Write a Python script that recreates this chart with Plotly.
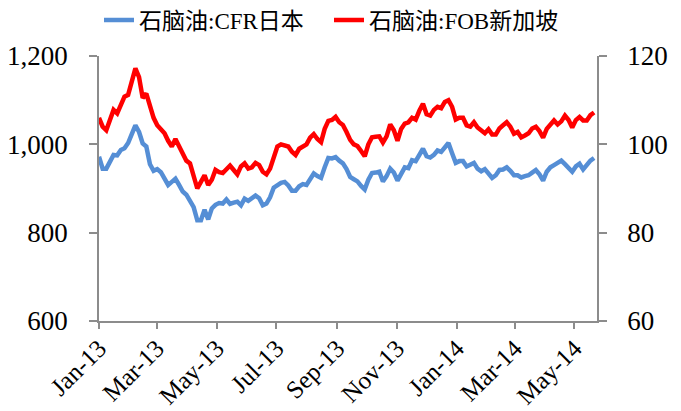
import pandas as pd
import plotly.graph_objects as go

# Observation window (evenly spaced observations)
start_date = "2013-01-01"
end_date = "2014-05-21"

cfr_japan = [
    972, 945, 945, 962, 976, 975, 987, 991, 1003, 1023,
    1043, 1028, 1002, 995, 955, 940, 944, 937, 922, 908,
    915, 922, 908, 893, 886, 874, 858, 828, 828, 852,
    830, 855, 863, 867, 866, 875, 865, 868, 870, 862,
    877, 872, 877, 884, 878, 862, 866, 880, 902, 909,
    913, 915, 907, 895, 895, 905, 910, 908, 920, 934,
    928, 924, 948, 969, 968, 971, 963, 957, 944, 926,
    921, 916, 906, 898, 920, 935, 936, 938, 916, 928,
    945, 936, 918, 932, 948, 946, 964, 962, 974, 990,
    973, 970, 976, 986, 983, 994, 1003, 980, 958, 962,
    962, 950, 955, 958, 945, 939, 944, 935, 924, 930,
    942, 943, 948, 940, 930, 930, 925, 928, 930, 936,
    942, 932, 918, 938, 948, 953, 958, 963, 955, 947,
    938, 950, 956, 943, 955, 963, 969,
]

fob_singapore = [
    1060, 1040, 1032, 1052, 1078, 1070, 1088, 1108, 1112, 1146,
    1172, 1152, 1105, 1115, 1088, 1060, 1043, 1035, 1025, 1008,
    995, 1012, 995, 975, 963, 957, 925, 900, 915, 930,
    908, 920, 942, 937, 935, 945, 952, 942, 932, 950,
    957, 945, 948, 958, 953, 938, 932, 945, 972, 995,
    1000, 998, 995, 983, 976, 990, 995, 1000, 1015, 1023,
    1012, 1005, 1035, 1053, 1055, 1062, 1050, 1044, 1028, 1010,
    1000, 996, 985, 973, 1000, 1016, 1017, 1018, 1004, 1018,
    1045, 1032, 1008, 1035, 1047, 1050, 1060, 1056, 1076, 1092,
    1068, 1065, 1078, 1085, 1082, 1096, 1100, 1085, 1056, 1060,
    1060, 1043, 1040, 1050, 1038, 1030, 1025, 1034, 1022, 1022,
    1036, 1043, 1050, 1040, 1024, 1028, 1016, 1020, 1025, 1036,
    1040, 1030, 1015, 1035, 1046, 1054, 1045, 1052, 1065, 1055,
    1038, 1055, 1062, 1054, 1054, 1066, 1072,
]

tick_dates = ["2013-01-01", "2013-03-01", "2013-05-01", "2013-07-01", "2013-09-01",
              "2013-11-01", "2014-01-01", "2014-03-01", "2014-05-01"]
tick_labels = ["Jan-13", "Mar-13", "May-13", "Jul-13", "Sep-13",
               "Nov-13", "Jan-14", "Mar-14", "May-14"]

left_ticks = [600, 800, 1000, 1200]
right_ticks = [60, 80, 100, 120]

dates = pd.date_range(start_date, end_date, periods=len(cfr_japan))

FONT = "Liberation Serif, Times New Roman, Noto Sans CJK SC, serif"
AXIS_COLOR = "#8c8c8c"

fig = go.Figure()
fig.add_trace(go.Scatter(x=dates, y=cfr_japan, mode="lines", name="石脑油:CFR日本",
                         line=dict(color="#558ED5", width=4.5)))
fig.add_trace(go.Scatter(x=dates, y=fob_singapore, mode="lines", name="石脑油:FOB新加坡",
                         line=dict(color="#FF0000", width=4.5)))
# secondary axis carrier (same series on the /10 scale, invisible)
fig.add_trace(go.Scatter(x=dates, y=[v / 10 for v in cfr_japan], yaxis="y2", mode="lines",
                         line=dict(width=0), opacity=0, showlegend=False, hoverinfo="skip"))

fig.update_layout(
    width=681, height=411,
    margin=dict(l=99, r=84, t=56, b=90, autoexpand=False),
    paper_bgcolor="white", plot_bgcolor="white",
    font=dict(family=FONT, color="#000000"),
    showlegend=True,
    legend=dict(orientation="h", x=0.0, xanchor="left", y=1.136, yanchor="middle",
                font=dict(size=23, family=FONT), bgcolor="rgba(0,0,0,0)",
                entrywidth=185, tracegroupgap=0),
    xaxis=dict(type="date", range=["2013-01-01", "2014-05-24"],
               tickvals=tick_dates, ticktext=tick_labels, tickangle=-45,
               tickfont=dict(size=25, family=FONT), ticklabelstandoff=-5,
               showline=True, linecolor=AXIS_COLOR, linewidth=1.5,
               ticks="outside", ticklen=6, tickcolor=AXIS_COLOR, tickwidth=1.5,
               showgrid=False, zeroline=False, automargin=False),
    yaxis=dict(range=[600, 1200], tickvals=left_ticks, tickformat=",",
               tickfont=dict(size=27, family=FONT), ticklabelstandoff=16,
               showline=True, linecolor=AXIS_COLOR, linewidth=1.5,
               ticks="outside", ticklen=8, tickcolor=AXIS_COLOR, tickwidth=1.5,
               showgrid=False, zeroline=False, automargin=False),
    yaxis2=dict(range=[60, 120], tickvals=right_ticks, overlaying="y", side="right",
                tickfont=dict(size=27, family=FONT), ticklabelstandoff=15,
                showline=True, linecolor=AXIS_COLOR, linewidth=1.5,
                ticks="outside", ticklen=8, tickcolor=AXIS_COLOR, tickwidth=1.5,
                showgrid=False, zeroline=False, automargin=False),
)

# remove the default page margin so the 681x411 figure fills the window exactly
fig.write_html("out.html", config={"displayModeBar": False},
               post_script="document.body.style.margin='0';")
